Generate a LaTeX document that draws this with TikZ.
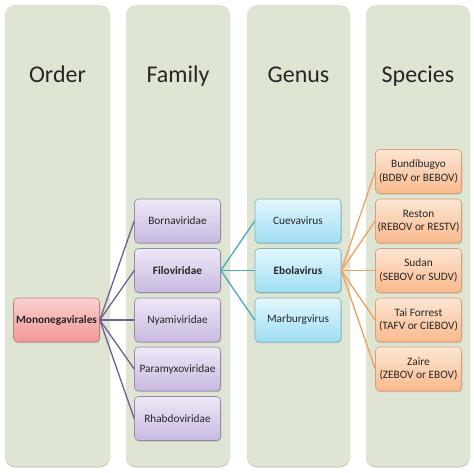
\documentclass[tikz,border=0pt]{standalone}
\usepackage{fontspec}
\setmainfont{Carlito}
\usetikzlibrary{shadows}
\definecolor{colbg}{RGB}{222,229,211}
\definecolor{colshadow}{RGB}{190,196,184}
\definecolor{ordtop}{RGB}{251,208,208}
\definecolor{ordbot}{RGB}{243,150,150}
\definecolor{orddraw}{RGB}{178,130,130}
\definecolor{famtop}{RGB}{238,232,246}
\definecolor{fambot}{RGB}{200,185,224}
\definecolor{famdraw}{RGB}{150,138,170}
\definecolor{gentop}{RGB}{228,247,253}
\definecolor{genbot}{RGB}{158,222,243}
\definecolor{gendraw}{RGB}{125,180,196}
\definecolor{sptop}{RGB}{253,230,212}
\definecolor{spbot}{RGB}{249,185,140}
\definecolor{spdraw}{RGB}{215,160,120}
\definecolor{linepurple}{RGB}{112,96,145}
\definecolor{lineteal}{RGB}{75,170,185}
\definecolor{lineorange}{RGB}{240,160,95}
\tikzset{
  column/.style={fill=colbg, rounded corners=10pt, draw=none,
     drop shadow={shadow xshift=0pt, shadow yshift=-1.5pt, fill=colshadow, opacity=0.8}},
  header/.style={font=\fontsize{24}{28}\selectfont, text=black!85, anchor=base},
  boxbase/.style={rectangle, rounded corners=4pt, minimum width=86pt, minimum height=44pt,
     inner sep=1pt, align=center, font=\fontsize{11.3}{13.3}\selectfont, text=black!85, line width=0.6pt,
     drop shadow={shadow xshift=0.8pt, shadow yshift=-1.2pt, opacity=0.35}},
  ordbox/.style={boxbase, top color=ordtop, bottom color=ordbot, draw=orddraw},
  fambox/.style={boxbase, top color=famtop, bottom color=fambot, draw=famdraw},
  genbox/.style={boxbase, top color=gentop, bottom color=genbot, draw=gendraw},
  spbox/.style={boxbase, top color=sptop, bottom color=spbot, draw=spdraw},
  lp/.style={draw=linepurple, line width=1.3pt},
  lt/.style={draw=lineteal, line width=1.3pt},
  lo/.style={draw=lineorange, line width=1.3pt},
}
\begin{document}
\begin{tikzpicture}[x=1pt,y=-1pt]
\useasboundingbox (0,0) rectangle (474,472);
% columns
\path[column] (5,5) rectangle (110,466);
\path[column] (126,5) rectangle (230,466);
\path[column] (247,5) rectangle (350,466);
\path[column] (366,5) rectangle (470,466);
% headers
\node[header] (hO) at (57.5,82) {Order};
\node[header] (hF) at (178,82) {Family};
\node[header] (hG) at (298.5,82) {Genus};
\node[header] (hS) at (418,82) {Species};
% order
\node[ordbox] (mono) at (56.5,320) {\textbf{Mononegavirales}};
% families
\node[fambox] (born) at (177.5,221) {Bornaviridae};
\node[fambox] (filo) at (177.5,270.5) {\textbf{Filoviridae}};
\node[fambox] (nyam) at (177.5,320) {Nyamiviridae};
\node[fambox] (para) at (177.5,369) {Paramyxoviridae};
\node[fambox] (rhab) at (177.5,418.5) {Rhabdoviridae};
% genus
\node[genbox] (cuev) at (298,221) {Cuevavirus};
\node[genbox] (ebol) at (298,270.5) {\textbf{Ebolavirus}};
\node[genbox] (marb) at (298,320) {Marburgvirus};
% species
\node[spbox] (bund) at (418.5,171.5) {Bundibugyo\\(BDBV or BEBOV)};
\node[spbox] (rest) at (418.5,221) {Reston\\(REBOV or RESTV)};
\node[spbox] (suda) at (418.5,270.5) {Sudan\\(SEBOV or SUDV)};
\node[spbox] (taif) at (418.5,320) {Tai Forrest\\(TAFV or CIEBOV)};
\node[spbox] (zair) at (418.5,369) {Zaire\\(ZEBOV or EBOV)};
% connectors
\foreach \f in {born,filo,nyam,para,rhab} \draw[lp] (mono.east) -- (\f.west);
\foreach \g in {cuev,ebol,marb} \draw[lt] (filo.east) -- (\g.west);
\foreach \s in {bund,rest,suda,taif,zair} \draw[lo] (ebol.east) -- (\s.west);
\end{tikzpicture}
\end{document}
